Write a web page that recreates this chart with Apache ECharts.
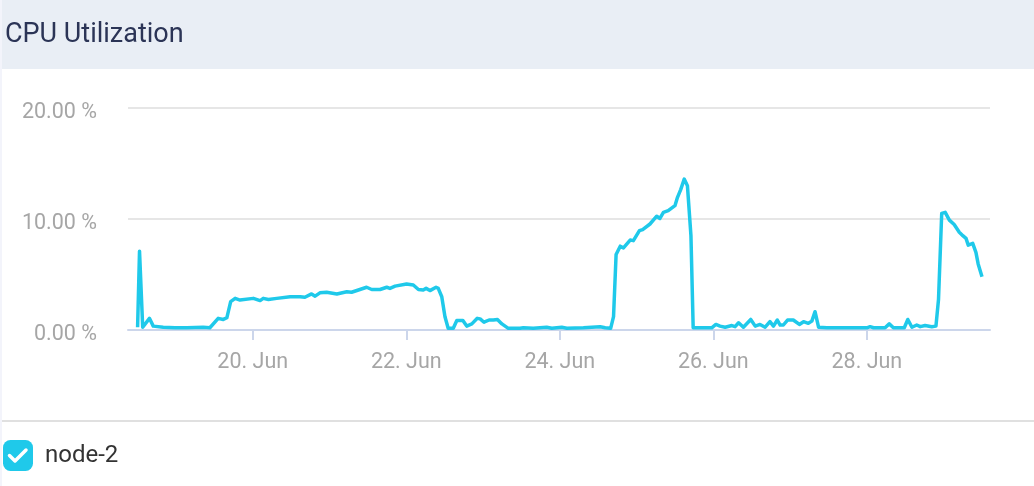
<!DOCTYPE html>
<html>
<head>
<meta charset="utf-8">
<script src="https://cdn.jsdelivr.net/npm/echarts@6/dist/echarts.min.js"></script>
<style>
  html, body { margin: 0; padding: 0; background: #ffffff; }
  #chart { width: 1034px; height: 486px; }
</style>
</head>
<body>
<div id="chart"></div>
<script>
// ---- data ----
const startTime = '2019-06-18T12:00:00';
const hoursFromStart = [
  0, 0.6, 1.6, 3.7, 4.9, 8.0, 8.6, 11.7, 15.4, 20.5,
  22.6, 25.2, 26.8, 27.9, 29.1, 30.5, 32.0, 36.2, 38.3, 39.3,
  40.9, 43.5, 47.7, 50.8, 52.3, 54.4, 55.5, 57.0, 59.1, 62.3,
  65.4, 66.9, 69.5, 71.6, 73.2, 75.8, 77.9, 78.9, 80.5, 84.1,
  86.2, 87.8, 89.3, 90.2, 91.4, 93.3, 94.0, 95.1, 96.1, 97.1,
  98.7, 99.8, 101.7, 102.9, 104.5, 106.2, 107.1, 108.3, 109.9, 111.2,
  112.5, 113.9, 115.9, 119.6, 120.6, 123.7, 127.9, 129.5, 132.6, 134.2,
  139.4, 144.6, 146.2, 147.9, 148.8, 149.6, 150.9, 151.9, 154.0, 155.0,
  156.9, 157.9, 160.2, 162.3, 163.3, 164.4, 165.9, 168.0, 168.8, 169.8,
  170.9, 171.9, 173.0, 173.7, 179.5, 180.8, 182.1, 183.7, 185.8, 186.8,
  187.9, 189.4, 191.7, 193.1, 194.6, 196.2, 197.7, 198.8, 200.0, 200.9,
  201.9, 203.2, 205.0, 206.9, 208.2, 209.7, 210.8, 211.8, 212.9, 215.5,
  228.0, 229.0, 230.1, 233.7, 235.0, 236.3, 239.7, 240.8, 242.1, 243.6,
  244.7, 246.2, 248.3, 249.6, 250.4, 251.4, 252.5, 253.8, 255.3, 256.9,
  258.0, 259.0, 259.7, 261.1, 262.1, 262.8, 264.0
];
const cpuPercent = [
  0.25, 7.1, 0.25, 1.05, 0.35, 0.25, 0.35, 0.2, 0.2, 0.25,
  0.2, 1.05, 0.95, 1.1, 2.55, 2.85, 2.7, 2.85, 2.65, 2.85,
  2.75, 2.85, 3.0, 3.0, 2.95, 3.25, 3.05, 3.35, 3.4, 3.25,
  3.45, 3.4, 3.65, 3.85, 3.65, 3.65, 3.85, 3.75, 3.95, 4.15,
  4.05, 3.65, 3.6, 3.75, 3.55, 3.85, 3.75, 3.0, 1.2, 0.15,
  0.15, 0.85, 0.85, 0.35, 0.55, 1.05, 1.0, 0.7, 0.9, 0.9,
  0.95, 0.55, 0.15, 0.15, 0.2, 0.15, 0.25, 0.15, 0.25, 0.15,
  0.2, 0.3, 0.2, 0.15, 1.2, 6.8, 7.55, 7.4, 8.1, 8.05,
  8.95, 9.05, 9.55, 10.25, 10.05, 10.6, 10.75, 11.2, 11.95, 12.65,
  13.6, 13.0, 8.5, 0.2, 0.2, 0.5, 0.35, 0.25, 0.4, 0.3,
  0.65, 0.25, 0.95, 0.35, 0.5, 0.25, 0.75, 0.35, 0.9, 0.45,
  0.45, 0.9, 0.9, 0.5, 0.75, 0.6, 0.8, 1.65, 0.25, 0.2,
  0.2, 0.3, 0.2, 0.2, 0.55, 0.2, 0.2, 0.95, 0.25, 0.45,
  0.3, 0.4, 0.3, 0.35, 2.75, 10.5, 10.6, 9.9, 9.5, 8.8,
  8.5, 8.25, 7.65, 7.8, 7.0, 5.95, 4.8
];
const xTickDates = ['2019-06-20T00:00:00', '2019-06-22T00:00:00', '2019-06-24T00:00:00', '2019-06-26T00:00:00', '2019-06-28T00:00:00'];
const xAxisMin = '2019-06-18T09:00:00';
const xAxisMax = '2019-06-29T14:30:00';
const yTicks = [0, 10, 20];
const seriesName = 'node-2';
const titleText = 'CPU Utilization';
const monthNames = ['Jan','Feb','Mar','Apr','May','Jun','Jul','Aug','Sep','Oct','Nov','Dec'];

// ---- build ----
const t0 = new Date(startTime).getTime();
const seriesData = hoursFromStart.map((h, i) => [t0 + h * 3600000, cpuPercent[i]]);
const tickValues = xTickDates.map(s => new Date(s).getTime());

const lineColor = '#1fc9ea';
const chart = echarts.init(document.getElementById('chart'), null, { renderer: 'canvas' });

chart.setOption({
  animation: false,
  backgroundColor: '#ffffff',
  textStyle: { fontFamily: 'Roboto' },
  title: {
    text: titleText,
    left: 5,
    top: 22,
    padding: 0,
    textStyle: { fontSize: 27, fontWeight: 'normal', color: '#2b3456', fontFamily: 'Roboto' }
  },
  graphic: [
    { type: 'rect', z: -10, silent: true, shape: { x: 0, y: 0, width: 2, height: 486 }, style: { fill: '#f3f4fb' } },
    { type: 'rect', z: -10, silent: true, shape: { x: 2, y: 0, width: 1032, height: 69 }, style: { fill: '#e9eef5' } },
    { type: 'line', z: -5, silent: true, shape: { x1: 2, y1: 421, x2: 1034, y2: 421 }, style: { stroke: '#e0e0e0', lineWidth: 2 } },
    { type: 'polyline', z: 100, silent: true, shape: { points: [[9.5, 455.5], [15, 461], [26, 450]] }, style: { stroke: '#ffffff', lineWidth: 3.5, fill: null, lineCap: 'round', lineJoin: 'round' } }
  ],
  legend: {
    left: 3,
    top: 440,
    padding: 0,
    icon: 'roundRect',
    itemWidth: 30,
    itemHeight: 31,
    data: [seriesName],
    textStyle: { fontSize: 24, color: '#333333', fontFamily: 'Roboto', padding: [9, 0, 0, 7] }
  },
  grid: { left: 128, right: 44, top: 108, bottom: 156, containLabel: false },
  xAxis: {
    type: 'value',
    min: new Date(xAxisMin).getTime(),
    max: new Date(xAxisMax).getTime(),
    axisLine: { show: true, lineStyle: { color: '#ccd6eb', width: 2 } },
    axisTick: { show: true, customValues: tickValues, length: 10, lineStyle: { color: '#ccd6eb', width: 2 } },
    splitLine: { show: false },
    axisLabel: {
      customValues: tickValues,
      margin: 22,
      fontSize: 21.5,
      color: '#a6a6a6',
      fontFamily: 'Roboto',
      formatter: function (v) {
        const d = new Date(v);
        return d.getDate() + '. ' + monthNames[d.getMonth()];
      }
    }
  },
  yAxis: {
    type: 'value',
    min: yTicks[0],
    max: yTicks[yTicks.length - 1],
    interval: yTicks[1] - yTicks[0],
    axisLine: { show: false },
    axisTick: { show: false },
    splitLine: { show: true, lineStyle: { color: '#e6e6e6', width: 2 } },
    axisLabel: {
      margin: 31,
      fontSize: 21.5,
      color: '#a6a6a6',
      fontFamily: 'Roboto',
      verticalAlign: 'top',
      lineHeight: 10,
      formatter: function (v) { return v.toFixed(2) + ' %'; }
    }
  },
  series: [{
    name: seriesName,
    type: 'line',
    data: seriesData,
    showSymbol: false,
    symbol: 'none',
    color: lineColor,
    lineStyle: { color: lineColor, width: 3.5, join: 'round' },
    z: 3
  }]
});
</script>
</body>
</html>
